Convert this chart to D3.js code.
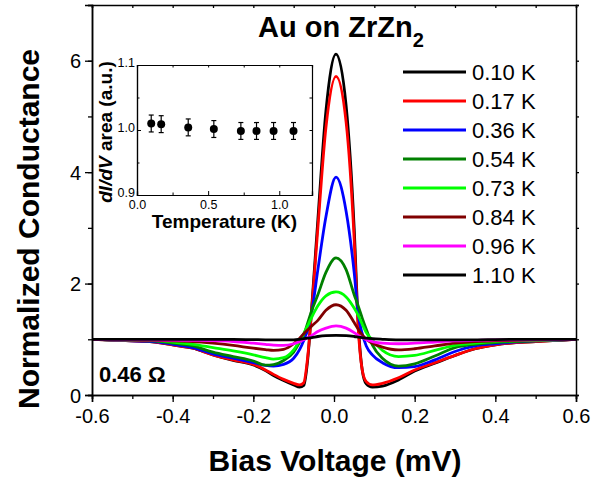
<!DOCTYPE html>
<html><head><meta charset="utf-8">
<script src="https://cdn.jsdelivr.net/npm/d3@7"></script>
<style>body{margin:0;background:#fff}svg{display:block}text{font-family:"Liberation Sans",Arial,sans-serif}</style>
</head><body>
<script>
// ---- data ----
const voltages = [-0.6,-0.5,-0.45,-0.4,-0.35,-0.3,-0.25,-0.2,-0.17,-0.15,-0.125,-0.1,-0.085,-0.075,-0.065,-0.055,-0.04,-0.02,0.005,0.03,0.05,0.06,0.07,0.08,0.095,0.12,0.16,0.2,0.25,0.3,0.35,0.4,0.5,0.6];
const seriesLabels = ["0.10 K","0.17 K","0.36 K","0.54 K","0.73 K","0.84 K","0.96 K","1.10 K"];
const seriesColors = ["#000000","#ff0000","#0000ff","#008000","#00ff00","#800000","#ff00ff","#000000"];
const g010 = [1.0,0.97,0.955,0.90,0.84,0.72,0.62,0.54,0.44,0.35,0.26,0.18,0.14,0.17,0.65,1.6,3.15,5.1,6.12,5.2,3.0,1.3,0.45,0.2,0.14,0.16,0.27,0.43,0.57,0.71,0.83,0.90,0.96,1.0];
const g017 = [1.0,0.97,0.955,0.90,0.84,0.72,0.63,0.55,0.45,0.37,0.28,0.21,0.18,0.22,0.7,1.55,3.0,4.8,5.72,4.9,2.8,1.2,0.45,0.24,0.18,0.21,0.31,0.45,0.58,0.71,0.83,0.90,0.96,1.0];
const g036 = [1.0,0.97,0.96,0.91,0.85,0.74,0.66,0.58,0.53,0.52,0.55,0.66,0.82,0.98,1.18,1.5,2.25,3.2,3.91,3.3,2.2,1.45,1.1,0.88,0.72,0.58,0.49,0.51,0.63,0.78,0.88,0.92,0.97,1.0];
const g054 = [1.0,0.98,0.97,0.93,0.88,0.77,0.69,0.61,0.535,0.545,0.62,0.77,0.95,1.08,1.3,1.52,1.8,2.2,2.46,2.25,1.8,1.6,1.38,1.18,0.9,0.66,0.52,0.56,0.70,0.85,0.91,0.94,0.97,1.0];
const g073 = [1.0,0.985,0.98,0.95,0.91,0.85,0.79,0.72,0.67,0.645,0.67,0.81,0.98,1.1,1.25,1.4,1.6,1.78,1.85,1.76,1.56,1.43,1.27,1.12,0.99,0.8,0.69,0.71,0.80,0.89,0.93,0.96,0.98,1.0];
const g084 = [1.0,0.985,0.98,0.97,0.96,0.93,0.89,0.84,0.815,0.80,0.82,0.92,1.02,1.1,1.17,1.24,1.34,1.52,1.62,1.52,1.3,1.18,1.08,1.0,0.93,0.86,0.81,0.83,0.88,0.93,0.96,0.97,0.99,1.0];
const g096 = [1.0,0.99,0.99,0.985,0.98,0.975,0.96,0.93,0.91,0.895,0.89,0.92,0.96,0.99,1.03,1.07,1.14,1.2,1.24,1.2,1.12,1.07,1.03,0.99,0.96,0.93,0.92,0.93,0.95,0.97,0.98,0.99,0.99,1.0];
const g110 = [1.0,1.0,1.0,1.0,1.0,1.0,1.0,0.995,0.99,0.99,0.99,0.99,1.0,1.01,1.02,1.03,1.05,1.065,1.07,1.065,1.05,1.04,1.03,1.02,1.01,1.0,0.99,0.99,0.99,0.99,0.99,0.995,1.0,1.0];
const seriesValues = [g010,g017,g036,g054,g073,g084,g096,g110];

const insetTemps = [0.10,0.17,0.36,0.54,0.73,0.84,0.96,1.10];
const insetArea  = [1.010,1.009,1.004,1.0015,0.9985,0.9985,0.9985,0.9985];
const insetErr   = [0.013,0.013,0.013,0.013,0.013,0.013,0.013,0.013];

const xTicksMain = [-0.6,-0.4,-0.2,0.0,0.2,0.4,0.6];
const yTicksMain = [0,2,4,6];
const xTicksInset = [0.0,0.5,1.0];
const yTicksInset = [0.9,1.0,1.1];

// ---- drawing ----
const W=610,H=480;
const svg=d3.select("body").append("svg").attr("width",W).attr("height",H);
const L=92,R=576,T=5,B=395;
const x=d3.scaleLinear().domain([-0.6,0.6]).range([L,R]);
const y=d3.scaleLinear().domain([0,7]).range([B,T]);

svg.append("clipPath").attr("id","clip").append("rect").attr("x",L).attr("y",T).attr("width",R-L).attr("height",B-T);

const line=d3.line().x(d=>x(d[0])).y(d=>y(d[1])).curve(d3.curveMonotoneX);
const curves=svg.append("g").attr("clip-path","url(#clip)");
seriesValues.forEach((vals,i)=>{
  curves.append("path").datum(voltages.map((v,j)=>[v,vals[j]]))
    .attr("d",line).attr("fill","none").attr("stroke",seriesColors[i])
    .attr("stroke-width",2.8).attr("stroke-linejoin","round");
});

// axes
const fmt=d=>d3.format(".1f")(d).replace("\u2212","-");
const xMinor=d3.range(-6,7).map(d=>d/10);
const gx=svg.append("g").attr("transform",`translate(0,${B})`);
gx.call(d3.axisBottom(x).tickValues(xMinor).tickSize(4).tickFormat(""));
gx.call(g=>g.append("g").call(d3.axisBottom(x).tickValues(xTicksMain).tickSize(7).tickFormat(fmt)));
const gxt=svg.append("g").attr("transform",`translate(0,${T})`).call(d3.axisTop(x).tickValues(xMinor).tickSize(-3).tickFormat(""));
const yMinor=d3.range(0,8);
const gy=svg.append("g").attr("transform",`translate(${L},0)`);
gy.call(d3.axisLeft(y).tickValues(yMinor).tickSize(4).tickFormat(""));
gy.call(g=>g.append("g").call(d3.axisLeft(y).tickValues(yTicksMain).tickSize(7).tickFormat(d3.format("d"))));
const gyr=svg.append("g").attr("transform",`translate(${R},0)`).call(d3.axisRight(y).tickValues(yMinor).tickSize(3).tickFormat(""));
[gx,gxt,gy,gyr].forEach(g=>{
  g.selectAll(".domain").attr("stroke","#000").attr("stroke-width",1.5);
  g.selectAll("line").attr("stroke","#000").attr("stroke-width",1.3);
  g.selectAll("text").attr("font-size",20).attr("fill","#000").attr("font-family","Liberation Sans, Arial, sans-serif");
});
gx.selectAll("text").attr("dy","0.71em").attr("y",14);
gy.selectAll("text").attr("x",-11).attr("dy","0.35em");

// axis titles
svg.append("text").attr("x",335).attr("y",471).attr("text-anchor","middle")
  .attr("font-size",30).attr("font-weight","bold").text("Bias Voltage (mV)");
svg.append("text").attr("transform","translate(39,229) rotate(-90)").attr("text-anchor","middle")
  .attr("font-size",30).attr("font-weight","bold").text("Normalized Conductance");

// title
const title=svg.append("text").attr("x",258).attr("y",37).attr("font-size",29).attr("font-weight","bold");
title.append("tspan").text("Au on ZrZn");
title.append("tspan").attr("font-size",20).attr("dy",10).text("2");

// resistance label
svg.append("text").attr("x",99).attr("y",382).attr("font-size",22).attr("font-weight","bold").text("0.46 Ω");

// legend
const lg=svg.append("g");
seriesLabels.forEach((lab,i)=>{
  const yy=72+i*29;
  lg.append("line").attr("x1",403).attr("x2",466).attr("y1",yy).attr("y2",yy)
    .attr("stroke",seriesColors[i]).attr("stroke-width",3);
  lg.append("text").attr("x",472).attr("y",yy+8).attr("font-size",22).text(lab);
});

// inset
const iL=137,iR=312,iT=65,iB=195;
const xi=d3.scaleLinear().domain([0,1.23]).range([iL,iR]);
const yi=d3.scaleLinear().domain([0.9,1.1]).range([iB,iT]);
const ins=svg.append("g");
ins.append("rect").attr("x",iL).attr("y",iT).attr("width",iR-iL).attr("height",iB-iT).attr("fill","#fff").attr("stroke","none");
const ixb=ins.append("g").attr("transform",`translate(0,${iB})`);
ixb.call(d3.axisBottom(xi).tickValues([0.25,0.75]).tickSize(-2.5).tickFormat(""));
ixb.call(g=>g.append("g").call(d3.axisBottom(xi).tickValues(xTicksInset).tickSize(-4).tickFormat(fmt)));
const ixt=ins.append("g").attr("transform",`translate(0,${iT})`);
ixt.call(d3.axisTop(xi).tickValues([0.25,0.5,0.75,1.0]).tickSize(-2.5).tickFormat(""));
const iyl=ins.append("g").attr("transform",`translate(${iL},0)`);
iyl.call(d3.axisLeft(yi).tickValues([0.95,1.05]).tickSize(-2.5).tickFormat(""));
iyl.call(g=>g.append("g").call(d3.axisLeft(yi).tickValues(yTicksInset).tickSize(-4).tickFormat(fmt)));
const iyr=ins.append("g").attr("transform",`translate(${iR},0)`);
iyr.call(d3.axisRight(yi).tickValues([0.95,1.0,1.05]).tickSize(-2.5).tickFormat(""));
[ixb,ixt,iyl,iyr].forEach(g=>{
  g.selectAll(".domain").attr("stroke","#000").attr("stroke-width",1.2);
  g.selectAll("line").attr("stroke","#000").attr("stroke-width",1);
  g.selectAll("text").attr("font-size",12.5).attr("fill","#000").attr("font-family","Liberation Sans, Arial, sans-serif");
});
ixb.selectAll("text").attr("y",5).attr("dy","0.71em");
iyl.selectAll("text").attr("x",-2).attr("dy","0.1em");

// error bars and markers
const pts=insetTemps.map((t,i)=>({t,v:insetArea[i],e:insetErr[i]}));
const eb=ins.append("g").attr("stroke","#000").attr("stroke-width",1.2);
pts.forEach(p=>{
  eb.append("line").attr("x1",xi(p.t)).attr("x2",xi(p.t)).attr("y1",yi(p.v-p.e)).attr("y2",yi(p.v+p.e));
  eb.append("line").attr("x1",xi(p.t)-2.5).attr("x2",xi(p.t)+2.5).attr("y1",yi(p.v-p.e)).attr("y2",yi(p.v-p.e));
  eb.append("line").attr("x1",xi(p.t)-2.5).attr("x2",xi(p.t)+2.5).attr("y1",yi(p.v+p.e)).attr("y2",yi(p.v+p.e));
});
ins.append("g").selectAll("circle").data(pts).join("circle")
  .attr("cx",d=>xi(d.t)).attr("cy",d=>yi(d.v)).attr("r",4).attr("fill","#000");

// inset labels
ins.append("text").attr("x",(iL+iR)/2).attr("y",228).attr("text-anchor","middle")
  .attr("font-size",19).attr("font-weight","bold").text("Temperature (K)");
const il=ins.append("text").attr("transform",`translate(112,${(iT+iB)/2+2}) rotate(-90)`).attr("text-anchor","middle")
  .attr("font-size",19).attr("font-weight","bold");
il.append("tspan").attr("font-style","italic").text("dI/dV");
il.append("tspan").text(" area (a.u.)");
</script>
</body></html>
